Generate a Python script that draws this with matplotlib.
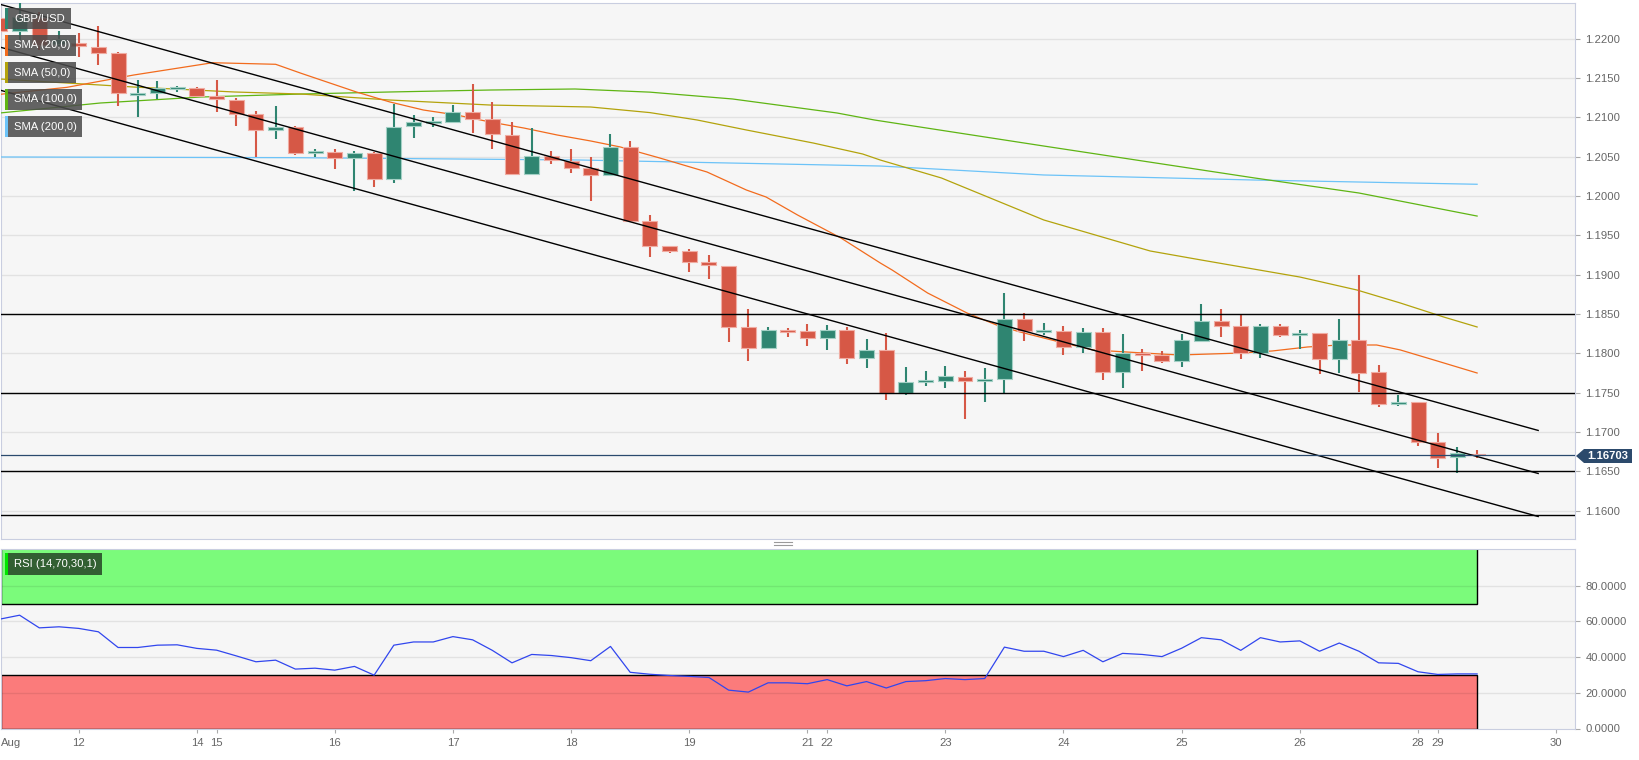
import numpy as np
import matplotlib.pyplot as plt
from matplotlib.patches import Rectangle, Polygon
from matplotlib.lines import Line2D
from matplotlib.ticker import FormatStrFormatter

plt.rcParams['font.family'] = ['Liberation Sans', 'DejaVu Sans']

# GBP/USD 4h candles, one per index
opens = [1.22262, 1.22097, 1.22262, 1.21930, 1.21944, 1.21894, 1.21817, 1.21284, 1.21309, 1.21360,
         1.21373, 1.21271, 1.21220, 1.21042, 1.20839, 1.20877, 1.20546, 1.20559, 1.20483, 1.20546,
         1.20216, 1.20890, 1.20928, 1.20940, 1.21068, 1.20979, 1.20775, 1.20280, 1.20508, 1.20445,
         1.20356, 1.20267, 1.20623, 1.19682, 1.19364, 1.19301, 1.19161, 1.19110, 1.18335, 1.18068,
         1.18297, 1.18284, 1.18195, 1.18297, 1.17941, 1.18043, 1.17496, 1.17636, 1.17649, 1.17699,
         1.17649, 1.17674, 1.18437, 1.18271, 1.18284, 1.18081, 1.18271, 1.17763, 1.18004, 1.17979,
         1.17903, 1.18157, 1.18411, 1.18348, 1.18004, 1.18348, 1.18233, 1.18259, 1.17928, 1.18170,
         1.17763, 1.17356, 1.17382, 1.16873, 1.16683, 1.16721]
highs = [1.22453, 1.22520, 1.22338, 1.22097, 1.22072, 1.22161, 1.21830, 1.21474, 1.21462, 1.21398,
         1.21385, 1.21474, 1.21245, 1.21080, 1.21144, 1.20890, 1.20597, 1.20597, 1.20572, 1.20559,
         1.21169, 1.21029, 1.21004, 1.21156, 1.21423, 1.21195, 1.20940, 1.20864, 1.20572, 1.20597,
         1.20496, 1.20788, 1.20699, 1.19758, 1.19364, 1.19326, 1.19250, 1.19110, 1.18564, 1.18335,
         1.18322, 1.18373, 1.18360, 1.18335, 1.18182, 1.18259, 1.17826, 1.17776, 1.17839, 1.17776,
         1.17814, 1.18767, 1.18513, 1.18386, 1.18348, 1.18322, 1.18322, 1.18246, 1.18055, 1.18030,
         1.18246, 1.18627, 1.18564, 1.18487, 1.18373, 1.18373, 1.18297, 1.18259, 1.18437, 1.18996,
         1.17852, 1.17471, 1.17382, 1.16988, 1.16809, 1.16772]
lows = [1.22046, 1.21983, 1.21856, 1.21906, 1.21767, 1.21665, 1.21144, 1.21004, 1.21233, 1.21322,
        1.21258, 1.21068, 1.20890, 1.20496, 1.20724, 1.20521, 1.20496, 1.20343, 1.20063, 1.20114,
        1.20165, 1.20737, 1.20877, 1.20928, 1.20801, 1.20597, 1.20267, 1.20267, 1.20407, 1.20292,
        1.19936, 1.20267, 1.19682, 1.19225, 1.19275, 1.19034, 1.18945, 1.18144, 1.17903, 1.18068,
        1.18208, 1.18093, 1.18043, 1.17865, 1.17814, 1.17407, 1.17471, 1.17585, 1.17560, 1.17166,
        1.17382, 1.17496, 1.18157, 1.18233, 1.17979, 1.18004, 1.17661, 1.17560, 1.17776, 1.17877,
        1.17826, 1.18144, 1.18208, 1.17928, 1.17941, 1.18208, 1.18055, 1.17738, 1.17750, 1.17509,
        1.17318, 1.17331, 1.16822, 1.16543, 1.16479, 1.16670]
closes = [1.22097, 1.22275, 1.21919, 1.21990, 1.21906, 1.21817, 1.21309, 1.21309, 1.21373, 1.21373,
          1.21271, 1.21233, 1.21042, 1.20839, 1.20877, 1.20546, 1.20572, 1.20483, 1.20546, 1.20216,
          1.20877, 1.20940, 1.20940, 1.21068, 1.20979, 1.20788, 1.20280, 1.20508, 1.20457, 1.20356,
          1.20267, 1.20623, 1.19682, 1.19364, 1.19301, 1.19161, 1.19123, 1.18335, 1.18068, 1.18297,
          1.18271, 1.18195, 1.18297, 1.17941, 1.18043, 1.17496, 1.17636, 1.17661, 1.17712, 1.17649,
          1.17674, 1.18437, 1.18284, 1.18297, 1.18081, 1.18271, 1.17763, 1.18004, 1.17979, 1.17903,
          1.18170, 1.18411, 1.18348, 1.18004, 1.18348, 1.18233, 1.18259, 1.17928, 1.18170, 1.17750,
          1.17356, 1.17382, 1.16873, 1.16670, 1.16734, 1.16703]

rsi = [61.3, 63.5, 56.4, 57.0, 56.1, 54.2, 45.4, 45.4, 46.7, 46.9,
       44.9, 43.9, 40.7, 37.4, 38.3, 33.3, 33.8, 32.7, 34.8, 29.9,
       46.7, 48.5, 48.5, 51.5, 49.7, 43.8, 36.8, 41.5, 40.9, 39.7,
       38.0, 46.0, 31.5, 30.4, 29.7, 29.2, 28.6, 21.5, 20.4, 25.6,
       25.6, 25.1, 27.4, 23.9, 26.3, 22.7, 26.3, 26.8, 28.0, 27.4,
       28.0, 45.6, 43.3, 43.3, 40.3, 43.8, 37.4, 42.1, 41.5, 40.3,
       45.0, 50.9, 49.7, 43.8, 50.9, 48.5, 49.1, 43.3, 47.9, 43.3,
       36.8, 36.5, 31.8, 30.3, 30.6, 30.6]

# moving averages (candle index, value)
sma20_x = [0, 3.4, 6.8, 10.8, 14.0, 15.3, 18.1, 19.8, 21.5, 23.2, 24.9, 26.6, 28.3, 30.0, 31.5, 33.5,
           35.9, 37.9, 38.9, 40.5, 42.7, 44.7, 45.3, 47.1, 49.1, 50.6, 51.8, 53.8, 55.5, 57.2, 58.9,
           59.9, 63.0, 64.6, 66.4, 68.0, 69.9, 71.1, 72.8, 75]
sma20 = [1.21292, 1.21381, 1.21538, 1.21694, 1.21674, 1.21559, 1.21322, 1.21195, 1.21093, 1.21029,
         1.20940, 1.20864, 1.20775, 1.20699, 1.20623, 1.20483, 1.20305, 1.20076, 1.19987, 1.19758,
         1.19466, 1.19148, 1.19059, 1.18767, 1.18513, 1.18360, 1.18271, 1.18144, 1.18043, 1.18017,
         1.17992, 1.17979, 1.18004, 1.18030, 1.18081, 1.18106, 1.18106, 1.18043, 1.17916, 1.17750]
sma50_x = [0, 6.8, 11.9, 15.3, 19.8, 24.9, 30, 33, 35.4, 37.9, 41.3, 43.8, 44.7, 47.8, 53, 58.4,
           61, 66, 68.9, 71.1, 73.3, 75]
sma50 = [1.21487, 1.21385, 1.21322, 1.21296, 1.21220, 1.21156, 1.21131, 1.21060, 1.20966, 1.20839,
         1.20673, 1.20534, 1.20457, 1.20229, 1.19695, 1.19301, 1.19186, 1.18970, 1.18805, 1.18640,
         1.18462, 1.18335]
sma100_x = [0, 5.1, 10.2, 15.3, 19.8, 24.9, 29.2, 33, 37.2, 42.5, 44.4, 53, 63.7, 69, 75]
sma100 = [1.21055, 1.21182, 1.21258, 1.21296, 1.21322, 1.21347, 1.21360, 1.21320, 1.21233, 1.21055,
          1.20966, 1.20635, 1.20229, 1.20038, 1.19745]
sma200_x = [0, 15, 29.5, 44.7, 53, 63.7, 75]
sma200 = [1.20496, 1.20487, 1.20457, 1.20381, 1.20267, 1.20203, 1.20149]

# descending channel
channel_x = [0, 78.1]
channel_upper = [1.22437, 1.17020]
channel_mid = [1.21893, 1.16473]
channel_low = [1.21346, 1.15926]

levels = [1.1850, 1.1750, 1.1650, 1.1595]
last_price = 1.16703

tick_pos = [4, 10, 11, 17, 23, 29, 35, 41, 42, 48, 54, 60, 66, 72, 73, 79]
tick_lab = ['12', '14', '15', '16', '17', '18', '19', '21', '22', '23', '24', '25', '26', '28', '29', '30']

W, H = 1639, 760
UP, DOWN = '#2f8571', '#d65846'
C20, C50, C100, C200 = '#f26b1d', '#b3a30c', '#5fb514', '#6cc3f8'
BORDER = '#c9cee0'
TXT = '#666666'
FS = 8.1


def fbox(l, t, r, b):
    return [l / W, 1 - b / H, (r - l) / W, (b - t) / H]


fig = plt.figure(figsize=(W / 100, H / 100), dpi=100)
ax = fig.add_axes(fbox(0.5, 3.4, 1575, 539))
ax2 = fig.add_axes(fbox(0.5, 549, 1575, 728.5), sharex=ax)

for a in (ax, ax2):
    a.set_facecolor('#f6f6f6')
    for s in a.spines.values():
        s.set_color(BORDER)
    a.yaxis.tick_right()
    a.tick_params(axis='y', length=3.5, width=0.8, color='#aaaaaa', pad=4,
                  labelsize=FS, labelcolor=TXT)

# ---- price panel ----
x = np.arange(len(opens))
o, h, l, c = map(np.array, (opens, highs, lows, closes))
up = c >= o
cols = np.where(up, UP, DOWN)
edges = np.where(up, '#a3d0c5', '#f0aca2')
ax.vlines(x, l, h, colors=cols, lw=1.5, zorder=5)
bottom = np.minimum(o, c)
height = np.maximum(np.abs(c - o), 0.0002)
ax.bar(x, height, 0.76, bottom=bottom, color=cols, edgecolor=edges, linewidth=0.8, zorder=6)

ax.plot(sma200_x, sma200, color=C200, lw=0.9, zorder=4)
ax.plot(sma100_x, sma100, color=C100, lw=0.9, zorder=4)
ax.plot(sma50_x, sma50, color=C50, lw=0.9, zorder=4)
ax.plot(sma20_x, sma20, color=C20, lw=0.9, zorder=4)

for ch in (channel_upper, channel_mid, channel_low):
    ax.plot(channel_x, ch, color='black', lw=1.0, zorder=7)
for lv in levels:
    ax.axhline(lv, color='black', lw=1.0, zorder=7)
ax.axhline(last_price, color='#2a4a6e', lw=0.9, zorder=7)

ax.set_ylim(1.1564, 1.22448)
ax.set_yticks(np.arange(1.16, 1.2201, 0.005))
ax.yaxis.set_major_formatter(FormatStrFormatter('%.4f'))
ax.grid(axis='y', color='#e2e2e2', lw=1)
ax.set_axisbelow(True)
ax.tick_params(axis='x', bottom=False, labelbottom=False)

# ---- RSI panel ----
x0 = 0.03
ax2.set_xlim(x0, 79.97)
ax2.set_ylim(0, 100.6)
ax2.add_patch(Rectangle((x0, 70), 75 - x0, 40, fc='#7bfb7b', ec='black', lw=1.0, zorder=1))
ax2.add_patch(Rectangle((x0, 0), 75 - x0, 30, fc='#fb7b7b', ec='black', lw=1.0, zorder=1))
for g in (20, 40, 60, 80):
    ax2.axhline(g, color='black', alpha=0.08, lw=1, zorder=2)
ax2.plot(x, rsi, color='#3146ee', lw=0.9, zorder=3)
ax2.set_yticks([0, 20, 40, 60, 80])
ax2.yaxis.set_major_formatter(FormatStrFormatter('%.4f'))
ax2.set_xticks(tick_pos, tick_lab)
ax2.tick_params(axis='x', length=3, width=0.8, color='#aaaaaa', pad=4, labelsize=FS, labelcolor=TXT)
fig.text(1 / W, 1 - 743 / H, 'Aug', ha='left', va='center', fontsize=FS, color=TXT)

# ---- legend boxes ----
names = ['GBP/USD', 'SMA (20,0)', 'SMA (50,0)', 'SMA (100,0)', 'SMA (200,0)']
stripes = [UP, C20, C50, C100, C200]
rights = [71, 76, 76, 82, 82]
tops = [8, 35, 62, 89, 116]
for name, sc, r, t in zip(names, stripes, rights, tops):
    fig.add_artist(Rectangle((5 / W, 1 - (t + 21) / H), 2.5 / W, 21 / H,
                             transform=fig.transFigure, fc=sc, ec='none', zorder=10))
    fig.add_artist(Rectangle((7.5 / W, 1 - (t + 21) / H), (r - 7.5) / W, 21 / H,
                             transform=fig.transFigure, fc='#4b4b4b', alpha=0.86, ec='none', zorder=10))
    fig.text(14 / W, 1 - (t + 10.5) / H, name, color='white', fontsize=FS,
             va='center', ha='left', zorder=11)

fig.add_artist(Rectangle((5 / W, 1 - 575 / H), 2.5 / W, 22 / H,
                         transform=fig.transFigure, fc='#00e600', ec='none', zorder=10))
fig.add_artist(Rectangle((7.5 / W, 1 - 575 / H), 94.5 / W, 22 / H,
                         transform=fig.transFigure, fc='#325f32', ec='none', zorder=10))
fig.text(14 / W, 1 - 564 / H, 'RSI (14,70,30,1)', color='white', fontsize=FS,
         va='center', ha='left', zorder=11)

# ---- last price tag ----
tag = [(1576, 456), (1584, 449), (1632, 449), (1632, 463), (1584, 463)]
fig.add_artist(Polygon([(px / W, 1 - py / H) for px, py in tag], closed=True,
                       transform=fig.transFigure, fc='#2c4a6c', ec='none', zorder=10))
fig.text(1608 / W, 1 - 456.5 / H, '%.5f' % last_price, color='white', fontsize=FS,
         fontweight='bold', ha='center', va='center', zorder=11)

# splitter handle between the panels
for yy in (542, 544.5):
    fig.add_artist(Line2D([774 / W, 792 / W], [1 - yy / H, 1 - yy / H],
                          transform=fig.transFigure, color='#9a9a9a', lw=0.8))

fig.savefig('out.png', dpi=100, facecolor='white')
